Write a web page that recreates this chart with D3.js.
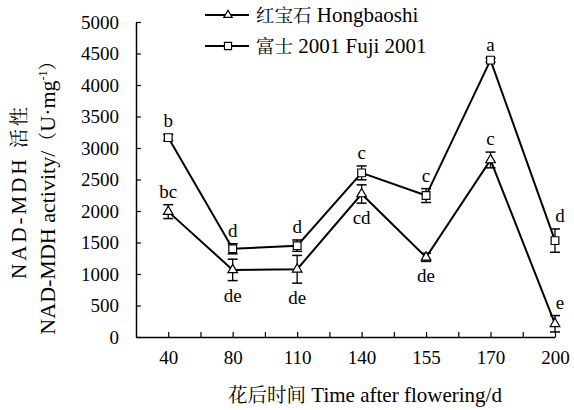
<!DOCTYPE html>
<html><head><meta charset="utf-8">
<script src="https://cdn.jsdelivr.net/npm/d3@7"></script>
<style>
body{margin:0;background:#fff;}
svg text{font-family:"Liberation Serif","Noto Serif CJK SC","Times New Roman",serif !important;fill:#000;}
</style></head>
<body><svg id="c" width="574" height="410"></svg>
<script>
const categories = ["40","80","110","140","155","170","200"];
const hongbaoshi = [1990, 1065, 1075, 2270, 1265, 2810, 210];
const hongErr    = [110, 170, 220, 145, 65, 125, 130];
const fuji       = [3165, 1400, 1450, 2605, 2245, 4395, 1530];
const fujiErr    = [50, 80, 90, 110, 110, 30, 185];
const hongLetters = ["bc","de","de","cd","de","c","e"];
const hongPlace   = ["above","below","below","below","below","above","above"];
const fujiLetters = ["b","d","d","c","c","a","d"];
const fujiPlace   = ["above","above","above","above","above","above","above"];
const yTicks = [0,500,1000,1500,2000,2500,3000,3500,4000,4500,5000];
const seriesNames = ["红宝石 Hongbaoshi","富士 2001 Fuji 2001"];
const xTitle = "花后时间 Time after flowering/d";
const yTitle1 = "NAD-MDH 活性";
const yTitle2 = "NAD-MDH activity/（U·mg";

const svg = d3.select("#c");
const x = d3.scaleLinear().domain([-0.5, categories.length-1]).range([136, 555]);
const y = d3.scaleLinear().domain([0, 5000]).range([337, 22]);

// mixed text: CJK runs smaller than Latin runs
function mixed(sel, str, latin, cjk){
  const runs = str.match(/[\u3000-\u9fff\uff00-\uffef]+|[^\u3000-\u9fff\uff00-\uffef]+/g);
  runs.forEach(r=>{
    const isC = /[\u3000-\u9fff\uff00-\uffef]/.test(r);
    sel.append("tspan").attr("font-size", isC?cjk:latin).text(r);
  });
  return sel;
}

// axes
const yAxis = d3.axisLeft(y).tickValues(yTicks).tickSizeInner(-5).tickSizeOuter(0).tickPadding(17).tickFormat(d3.format("d"));
const gy = svg.append("g").attr("transform","translate(136,0)").call(yAxis);
gy.attr("font-family",null);
gy.select(".domain").attr("stroke","#000").attr("stroke-width",1.5);
gy.selectAll(".tick line").attr("stroke","#000").attr("stroke-width",1.2);
gy.selectAll(".tick text").attr("font-size",19);

const xTickVals = d3.range(0, categories.length*2-1).map(i=>i/2);
const xAxis = d3.axisBottom(x).tickValues(xTickVals).tickSizeInner(-5).tickSizeOuter(0).tickPadding(14)
  .tickFormat(d => Number.isInteger(d) ? categories[d] : "");
const gx = svg.append("g").attr("transform","translate(0,337)").call(xAxis);
gx.attr("font-family",null);
gx.select(".domain").attr("stroke","#000").attr("stroke-width",1.5);
gx.selectAll(".tick line").attr("stroke","#000").attr("stroke-width",1.2);
gx.selectAll(".tick text").attr("font-size",19);

// axis titles
mixed(svg.append("text").attr("x",365).attr("y",402).attr("text-anchor","middle"), xTitle, 21, 19.5);
const yt = svg.append("g").attr("transform","translate(0,193) rotate(-90)");
mixed(yt.append("text").attr("x",0).attr("y",26).attr("text-anchor","middle")
  .attr("textLength",172).attr("lengthAdjust","spacing"), yTitle1, 21, 19);
const t2 = mixed(yt.append("text").attr("x",0).attr("y",55).attr("text-anchor","middle"), yTitle2, 22, 19);
t2.append("tspan").attr("font-size",12).attr("dy",-8).text("-1");
t2.append("tspan").attr("font-size",19).attr("dy",8).text("）");

function drawSeries(vals, errs, shape){
  const line = d3.line().x((d,i)=>x(i)).y(d=>y(d));
  svg.append("path").datum(vals).attr("d",line).attr("fill","none").attr("stroke","#000").attr("stroke-width",2);
  const g = svg.append("g");
  vals.forEach((v,i)=>{
    const e = errs[i], cx = x(i);
    g.append("line").attr("x1",cx).attr("x2",cx).attr("y1",y(v+e)).attr("y2",y(v-e)).attr("stroke","#000").attr("stroke-width",1.3);
    [v+e, v-e].forEach(t=>g.append("line").attr("x1",cx-5).attr("x2",cx+5).attr("y1",y(t)).attr("y2",y(t)).attr("stroke","#000").attr("stroke-width",1.5));
  });
  g.selectAll("path.m").data(vals).join("path").attr("class","m")
    .attr("transform",(d,i)=>`translate(${x(i)},${y(d)})`)
    .attr("d", d3.symbol().type(shape).size(shape===d3.symbolSquare?60:40))
    .attr("fill","#fff").attr("stroke","#000").attr("stroke-width",1.2);
}
drawSeries(hongbaoshi, hongErr, d3.symbolTriangle);
drawSeries(fuji, fujiErr, d3.symbolSquare);

function drawLetters(vals, errs, letters, place){
  letters.forEach((l,i)=>{
    const last = i===letters.length-1;
    const yy = place[i]==="above" ? y(vals[i]+errs[i]) - 7 : y(vals[i]-errs[i]) + 21;
    svg.append("text").attr("x", x(i) + (last?5:0)).attr("y", yy).attr("text-anchor","middle")
      .attr("font-size",19).text(l);
  });
}
drawLetters(hongbaoshi, hongErr, hongLetters, hongPlace);
drawLetters(fuji, fujiErr, fujiLetters, fujiPlace);

// legend
const shapes = [d3.symbolTriangle, d3.symbolSquare];
seriesNames.forEach((name,i)=>{
  const ly = 15 + i*31;
  svg.append("line").attr("x1",205).attr("x2",249).attr("y1",ly).attr("y2",ly).attr("stroke","#000").attr("stroke-width",2);
  svg.append("path").attr("transform",`translate(228,${ly})`).attr("d",d3.symbol().type(shapes[i]).size(i===1?50:30))
    .attr("fill","#fff").attr("stroke","#000").attr("stroke-width",1.2);
  mixed(svg.append("text").attr("x",256).attr("y",ly+7), name, 21, 18.5);
});
</script></body></html>
